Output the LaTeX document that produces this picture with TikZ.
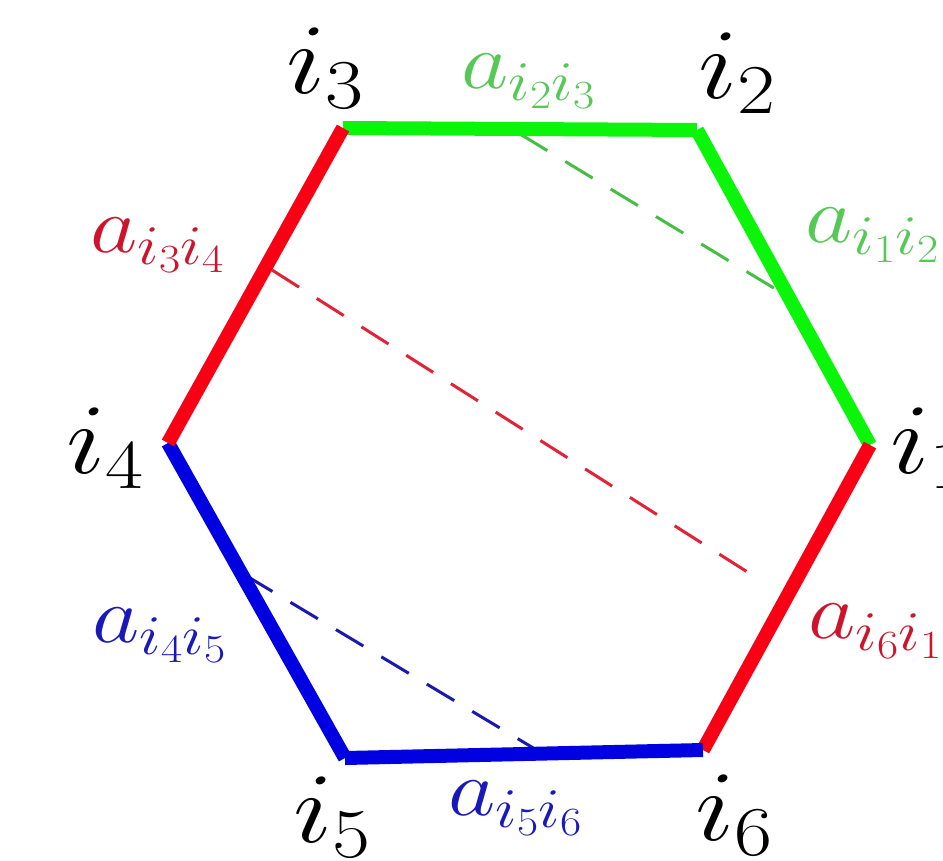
\RequirePackage{fix-cm}
\documentclass[tikz,border=0pt]{standalone}
\definecolor{edgegreen}{RGB}{10,245,10}
\definecolor{edgered}{RGB}{250,0,20}
\definecolor{edgeblue}{RGB}{0,0,225}
\definecolor{labgreen}{RGB}{85,200,85}
\definecolor{labred}{RGB}{205,20,45}
\definecolor{labblue}{RGB}{25,25,185}
\definecolor{dgreen}{RGB}{70,190,70}
\definecolor{dred}{RGB}{225,35,55}
\definecolor{dblue}{RGB}{25,25,175}
\tikzset{
  side/.style={line width=14pt, line cap=butt},
  chord/.style={line width=3pt, dash pattern=on 32pt off 21pt},
  vlab/.style={inner sep=0pt, anchor=base west, xscale=1.18, transform shape, font=\fontsize{100}{110}\selectfont},
  elab/.style={inner sep=0pt, anchor=base west, xscale=1.15, transform shape, font=\fontsize{80}{90}\selectfont}
}
\begin{document}
\begin{tikzpicture}[x=1pt,y=-1pt]
\useasboundingbox (0,0) rectangle (943,860);
\clip (0,0) rectangle (943,860);
% vertices
\coordinate (v1) at (870,445);
\coordinate (v2) at (697,130);
\coordinate (v3) at (343,128);
\coordinate (v4) at (168,443);
\coordinate (v5) at (345,758);
\coordinate (v6) at (703,750);
% chord end points
\coordinate (g1) at (520,134);
\coordinate (g2) at (777,290);
\coordinate (r1) at (272,270);
\coordinate (r2) at (760,580);
\coordinate (b1) at (245,575);
\coordinate (b2) at (540,752);
% dashed chords
\draw[chord, dgreen] (g1) -- (g2);
\draw[chord, dred] (r1) -- (r2);
\draw[chord, dblue] (b1) -- (b2);
% sides
\draw[side, edgegreen] (v3) -- (v2);
\draw[side, edgegreen] (v2) -- (v1);
\draw[side, edgered] (v1) -- (v6);
\draw[side, edgeblue] (v6) -- (v5);
\draw[side, edgeblue] (v5) -- (v4);
\draw[side, edgered] (v4) -- (v3);
% vertex labels
\node[vlab] (l3) at (286,93) {$i_3$};
\node[vlab] (l2) at (698,98) {$i_2$};
\node[vlab] (l1) at (890,473) {$i_1$};
\node[vlab] (l4) at (66,473) {$i_4$};
\node[vlab] (l5) at (293,842) {$i_5$};
\node[vlab] (l6) at (695,840) {$i_6$};
% edge labels
\node[elab, labgreen] (e23) at (461,88) {$a_{i_2i_3}$};
\node[elab, labgreen] (e12) at (805,242) {$a_{i_1i_2}$};
\node[elab, labred] (e34) at (90,252) {$a_{i_3i_4}$};
\node[elab, labred] (e61) at (808,638) {$a_{i_6i_1}$};
\node[elab, labblue] (e45) at (92,642) {$a_{i_4i_5}$};
\node[elab, labblue] (e56) at (448,815) {$a_{i_5i_6}$};
\end{tikzpicture}
\end{document}
